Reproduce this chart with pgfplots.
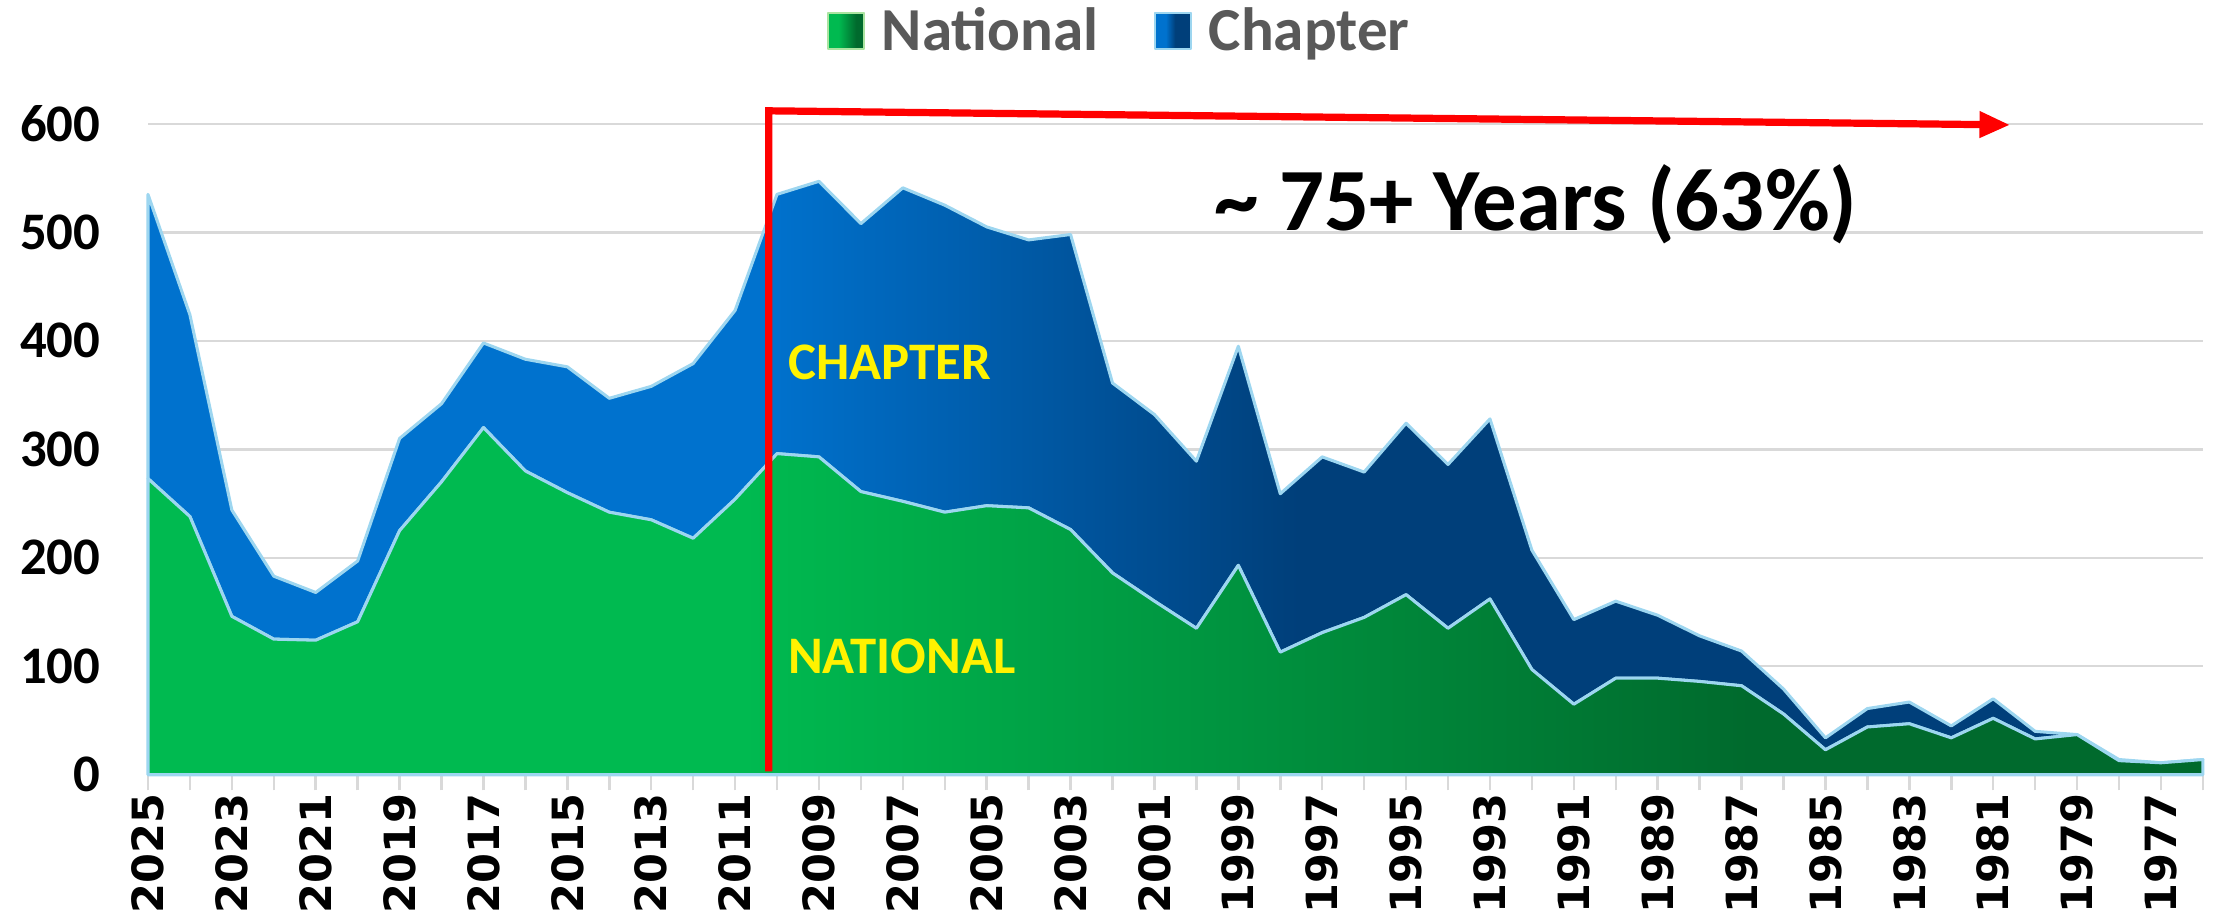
\documentclass[border=0pt]{standalone}
\usepackage{pgfplots}
\pgfplotsset{compat=1.18}
\usepackage{pgfplotstable}
\usepackage{fontspec}
\setmainfont{Carlito}
\newfontfamily\tickfont{DejaVu Sans}
\usetikzlibrary{arrows.meta}

\definecolor{natA}{RGB}{0,186,80}
\definecolor{natB}{RGB}{0,106,45}
\definecolor{chapA}{RGB}{0,114,206}
\definecolor{chapB}{RGB}{0,63,122}
\definecolor{edgeblue}{RGB}{157,214,240}
\definecolor{edgegreen}{RGB}{170,228,160}
\definecolor{gridgray}{RGB}{217,217,217}
\definecolor{legendgray}{RGB}{89,89,89}

% gradients run left (2025) to right (1976); 25bp..75bp covers the area
\pgfdeclarehorizontalshading{natshade}{100bp}{color(0bp)=(natA); color(39.5bp)=(natA); color(64bp)=(natB); color(100bp)=(natB)}
\pgfdeclarehorizontalshading{chapshade}{100bp}{color(0bp)=(chapA); color(40bp)=(chapA); color(53bp)=(chapB); color(100bp)=(chapB)}

% members per year: national, chapter (stacked)
\pgfplotstableread{
year nat chap
2025 273 262
2024 238 186
2023 146 98
2022 125 58
2021 124 44
2020 141 56
2019 225 85
2018 270 72
2017 320 78
2016 280 103
2015 260 116
2014 242 105
2013 235 123
2012 218 161
2011 254 174
2010 296 239
2009 293 254
2008 261 247
2007 252 289
2006 242 283
2005 248 257
2004 246 247
2003 226 272
2002 186 175
2001 160 172
2000 135 154
1999 193 202
1998 113 146
1997 131 162
1996 145 134
1995 166 158
1994 135 151
1993 162 166
1992 97 110
1991 65 78
1990 89 71
1989 89 58
1988 86 42
1987 82 32
1986 56 23
1985 23 11
1984 44 17
1983 47 20
1982 34 11
1981 52 18
1980 33 7
1979 37 0
1978 13 1
1977 11 0
1976 14 0
}\members

\begin{document}
\begin{tikzpicture}
\begin{axis}[
  name=ax,
  scale only axis,
  width=740bp, height=234.4bp,
  xmin=1976, xmax=2025, x dir=reverse,
  ymin=0, ymax=600,
  enlargelimits=false,
  stack plots=y,
  clip=false,
  axis x line*=bottom, axis y line*=left,
  x axis line style={draw=gridgray, line width=1.2bp},
  y axis line style={draw=none},
  ytick={0,100,...,600},
  ymajorgrids,
  grid style={draw=gridgray, line width=0.9bp},
  ytick style={draw=none},
  xtick={1977,1979,...,2025},
  minor xtick={1976,1978,...,2024},
  xtick style={draw=gridgray, line width=0.9bp},
  tick align=outside,
  major tick length=5.6bp, minor tick length=5.6bp,
  /pgf/number format/assume math mode=true,
  /pgf/number format/1000 sep={},
  xticklabel style={rotate=90, anchor=east, inner sep=1bp,
    font=\tickfont\bfseries\fontsize{15.5bp}{18bp}\selectfont},
  yticklabel style={xshift=-8bp, font=\bfseries\fontsize{19bp}{22bp}\selectfont},
  legend style={at={(0.4735,1.143)}, anchor=center, draw=none, fill=none,
    legend columns=2, text=legendgray,
    font=\bfseries\fontsize{22bp}{26bp}\selectfont,
    /tikz/every odd column/.append style={column sep=4bp},
    /tikz/every even column/.append style={column sep=18bp}},
]

\addplot[draw=edgeblue, line width=1.1bp, shading=natshade, line join=round,
  legend image code/.code={\draw[draw=edgegreen, line width=0.8bp, shading=natshade] (0bp,-6.5bp) rectangle (13bp,6.5bp);}]
  table[x=year, y=nat] {\members} \closedcycle;
\addplot[draw=edgeblue, line width=1.1bp, shading=chapshade, line join=round,
  legend image code/.code={\draw[draw=edgeblue, line width=0.8bp, shading=chapshade] (0bp,-6.5bp) rectangle (13bp,6.5bp);}]
  table[x=year, y=chap] {\members} \closedcycle;
\legend{National, Chapter}

% anchor points for the annotations drawn on top after the axis
\coordinate (rb) at (axis cs:2010.2,3);
\coordinate (rt) at (axis cs:2010.2,612);
\coordinate (re) at (axis cs:1980.6,599);
\coordinate (yrs) at (axis cs:1991.9,526);
\coordinate (chp) at (axis cs:2009.75,380);
\coordinate (nat) at (axis cs:2009.75,109);
\end{axis}

\draw[red, line width=2.6bp, -{Triangle[length=11bp, width=9bp]}] (rb) -- (rt) -- (re);
\node[font=\bfseries\fontsize{32bp}{38bp}\selectfont] at (yrs)
  {\textasciitilde{} 75+ Years (63\%)};
\node[anchor=west, inner sep=0pt, text=yellow, font=\bfseries\fontsize{19bp}{22bp}\selectfont]
  at (chp) {CHAPTER};
\node[anchor=west, inner sep=0pt, text=yellow, font=\bfseries\fontsize{19bp}{22bp}\selectfont]
  at (nat) {NATIONAL};

\pgfresetboundingbox
\path[use as bounding box] ([xshift=-53.3bp, yshift=-53.3bp]ax.south west)
  rectangle ([xshift=4bp, yshift=44.6bp]ax.north east);
\end{tikzpicture}
\end{document}
